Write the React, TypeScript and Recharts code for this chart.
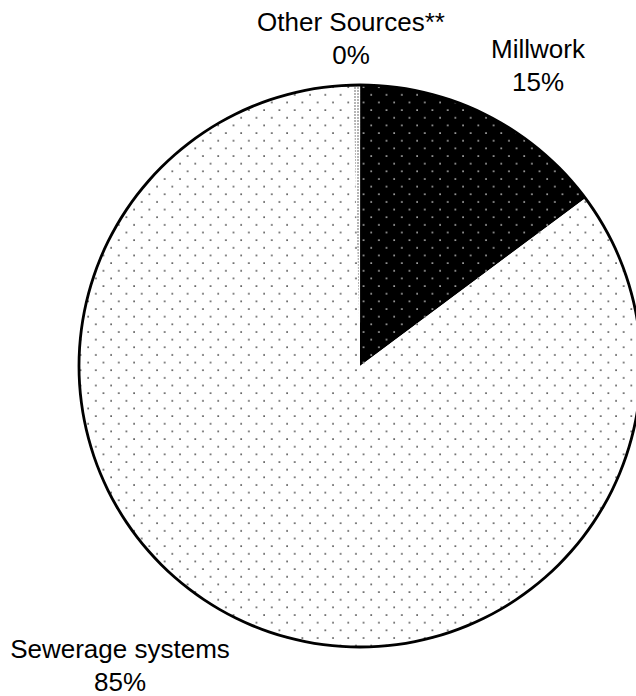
import React from "react";
import { PieChart, Pie, Cell } from "recharts";

const categories = ["Other Sources**", "Millwork", "Sewerage systems"];
const values = [0.4, 14.8, 84.8];
const percentLabels = ["0%", "15%", "85%"];

const data = categories.map((name, i) => ({ name, value: values[i], pct: percentLabels[i] }));
const ringData = [{ name: "outline", value: 1 }];

const fills = ["url(#patOther)", "url(#patMill)", "url(#patSewer)"];

// label placement offsets relative to pie centre (style, not data)
const labelOffsets: Record<string, { dx: number; dy: number }> = {
  "Other Sources**": { dx: -9, dy: -335 },
  Millwork: { dx: 178, dy: -308 },
  "Sewerage systems": { dx: -240, dy: 292 },
};

const FONT = "'Liberation Sans', Arial, Helvetica, sans-serif";

const renderLabel = (props: any) => {
  const { cx, cy, name, payload, index } = props;
  const off = labelOffsets[name] || { dx: 0, dy: 0 };
  const x = cx + off.dx;
  const y = cy + off.dy;
  const pct = (payload && payload.pct) || percentLabels[index];
  return (
    <text
      key={`lbl-${index}`}
      x={x}
      y={y}
      textAnchor="middle"
      fill="#000"
      fontFamily={FONT}
      fontSize={26}
    >
      <tspan x={x} dy={0}>{name}</tspan>
      <tspan x={x} dy={33}>{pct}</tspan>
    </text>
  );
};

export default function App() {
  const P = 15.3;
  return (
    <div style={{ position: "absolute", left: 0, top: 0, width: 636, height: 696, background: "#fff" }}>
      <svg width={0} height={0} style={{ position: "absolute" }}>
        <defs>
          <pattern id="patSewer" patternUnits="userSpaceOnUse" width={P} height={P} x={3} y={2}>
            <rect width={P} height={P} fill="#fff" />
            <rect x={0.3} y={0.3} width={1.5} height={1.5} fill="#333" />
            <rect x={0.3 + P / 2} y={0.3 + P / 2} width={1.5} height={1.5} fill="#333" />
          </pattern>
          <pattern id="patMill" patternUnits="userSpaceOnUse" width={P} height={P} x={3} y={2}>
            <rect width={P} height={P} fill="#000" />
            <rect x={0.3} y={0.3} width={1.5} height={1.5} fill="#d0d0d0" />
            <rect x={0.3 + P / 2} y={0.3 + P / 2} width={1.5} height={1.5} fill="#d0d0d0" />
          </pattern>
          <pattern id="patOther" patternUnits="userSpaceOnUse" width={3} height={3}>
            <rect width={3} height={3} fill="#fff" />
            <circle cx={1} cy={1} r={0.7} fill="#333" />
          </pattern>
        </defs>
      </svg>
      <PieChart width={636} height={696} margin={{ top: 0, right: 0, bottom: 0, left: 0 }}>
        <Pie
          data={data}
          dataKey="value"
          nameKey="name"
          cx={360}
          cy={366}
          outerRadius={281}
          innerRadius={0}
          startAngle={91.4}
          endAngle={-268.6}
          stroke="none"
          isAnimationActive={false}
          labelLine={false}
          label={renderLabel}
        >
          {data.map((d, i) => (
            <Cell key={d.name} fill={fills[i]} stroke="none" />
          ))}
        </Pie>
        <Pie
          data={ringData}
          dataKey="value"
          cx={360}
          cy={366}
          innerRadius={279.6}
          outerRadius={282.4}
          startAngle={90}
          endAngle={-270}
          fill="#000"
          stroke="none"
          isAnimationActive={false}
          labelLine={false}
          label={false}
        />
      </PieChart>
    </div>
  );
}
